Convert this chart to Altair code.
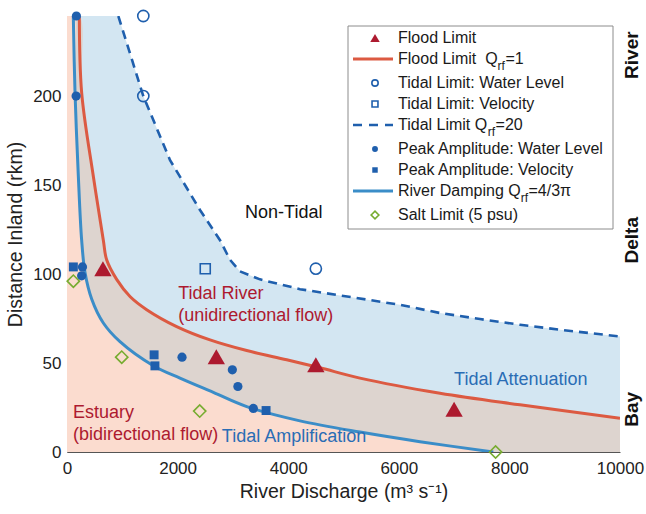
import altair as alt
import pandas as pd

FONT = "Liberation Sans"

# ---- axis extents ----
Q_MAX = 10000
KM_MAX = 245

# ---- boundary curves: river discharge (m3/s) vs distance inland (km) ----
flood_q = [223, 265, 476, 657, 717, 898, 1139, 1441, 1983, 2586, 3250, 3973, 4575, 5298, 6745, 8192, 10000]
flood_km = [245, 202, 155, 119, 108, 97, 87.4, 80, 70.5, 63, 57, 51.8, 47.3, 41.5, 33, 26.5, 19]

damp_q = [114, 145, 205, 265, 325, 446, 657, 958, 1561, 2043, 2646, 3250, 4213, 5298, 6383, 7709]
damp_km = [245, 202, 155, 119, 101, 86, 72.5, 62, 48.5, 41.5, 33.5, 25.5, 17.5, 11.2, 5.8, 0]

tlim_q = [928, 1380, 1863, 2405, 2767, 2948, 3128, 3490, 4213, 4937, 6022, 6745, 7468, 8192, 8915, 10000]
tlim_km = [245, 200, 164, 136, 119, 108, 101.5, 97, 91.5, 88, 82.7, 78.1, 74.7, 71.5, 68.7, 64.9]

# ---- observations ----
flood_obs_q = [650, 2700, 4500, 7000]
flood_obs_km = [103, 53.5, 49, 24]

tide_wl_q = [1380, 1380, 4500]
tide_wl_km = [245, 200, 103]

tide_vel_q = [2500]
tide_vel_km = [103]

peak_wl_q = [170, 165, 280, 265, 2080, 2990, 3090, 3370]
peak_wl_km = [245, 200, 104, 99, 53.3, 46.2, 36.8, 24.5]

peak_vel_q = [115, 1575, 1590, 3600]
peak_vel_km = [104, 54.6, 48.4, 23.3]

salt_q = [115, 990, 2400, 7750]
salt_km = [96, 53.3, 23, 0]

# reference distances separating river / delta / bay
zone_km = [50, 200]

# ---- colours ----
RED_LINE = "#dc5a42"
DARK_RED = "#ad1a2f"
BLUE_LINE = "#3b8dc8"
DARK_BLUE = "#1f5fad"
TEXT_BLUE = "#2a6db5"
GREEN = "#77ac30"
FILL_BLUE = "#d3e6f2"
FILL_MIX = "#ddd4cf"
FILL_SALMON = "#fbdccf"

W, H = 553, 436
LEFT, TOP = 67, 16

xs = alt.Scale(domain=[0, Q_MAX], nice=False, zero=False)
ys = alt.Scale(domain=[0, KM_MAX], nice=False, zero=False)
XQ = alt.X("q:Q", scale=xs)
YK = alt.Y("km:Q", scale=ys)


def frame(q, km):
    return pd.DataFrame({"q": q, "km": km})


def area(q, km, color, interp):
    # filled region between the axis and a boundary curve, flat along the top
    d = frame([0] + q, [KM_MAX] + km)
    return alt.Chart(d).mark_area(color=color, opacity=1, interpolate=interp, clip=True).encode(
        x=XQ, y=YK, y2=alt.datum(0)
    )


def curve(q, km, color, width, interp, dash=None):
    kw = dict(color=color, strokeWidth=width, interpolate=interp, clip=True)
    if dash:
        kw["strokeDash"] = dash
    return alt.Chart(frame(q, km)).mark_line(**kw).encode(x=XQ, y=YK)


def points(q, km, shape, size, color, filled, stroke_width=1.6):
    return alt.Chart(frame(q, km)).mark_point(
        shape=shape, size=size, color=color, filled=filled, opacity=1,
        strokeWidth=stroke_width, clip=False
    ).encode(x=XQ, y=YK)


def note(lines, q, km, color, size=18, align="left"):
    d = pd.DataFrame({"q": [q], "km": [km], "t": [lines]})
    return alt.Chart(d).mark_text(
        font=FONT, fontSize=size, color=color, align=align, baseline="middle", lineHeight=22
    ).encode(x=XQ, y=YK, text="t:N")


one = alt.Data(values=[{}])

# Helvetica/Arial advance widths (em) for legend text layout
ADV = {
    " ": .278, "\u00a0": .278, "F": .611, "l": .222, "o": .556, "d": .556, "L": .556,
    "i": .222, "m": .833, "t": .278, "Q": .778, "T": .611, "a": .556, "R": .722, "v": .5,
    "e": .556, "r": .333, "D": .722, "p": .556, "n": .556, "g": .556, "f": .278,
}


def text_width(s, size):
    return sum(ADV.get(c, .556) for c in s) * size


def px(x):
    return alt.value(x - LEFT)


def py(y):
    return alt.value(y - TOP)


LEG_FS = 16


def ltext(txt, x, y, size=LEG_FS, color="#1a1a1a"):
    return alt.Chart(one).mark_text(
        text=txt, font=FONT, fontSize=size, color=color, align="left", baseline="middle"
    ).encode(x=px(x), y=py(y))


def ltext_sub(head, sub, tail, x, y):
    # label of the form "<head>Q_rf<tail>" with a subscript
    x_sub = x + text_width(head, LEG_FS)
    x_tail = x_sub + text_width(sub, 12) + 0.5
    return [
        ltext(head, x, y),
        ltext(sub, x_sub, y + 7, size=12),
        ltext(tail, x_tail, y),
    ]


def lsym(x, y, shape, size, color, filled):
    return alt.Chart(one).mark_point(
        shape=shape, size=size, color=color, filled=filled, opacity=1, strokeWidth=1.6
    ).encode(x=px(x), y=py(y))


def lline(x1, x2, y, color, width, dash=None):
    kw = dict(color=color, strokeWidth=width)
    if dash:
        kw["strokeDash"] = dash
    return alt.Chart(one).mark_rule(**kw).encode(x=px(x1), x2=px(x2), y=py(y))


SMOOTH = "catmull-rom"

layers = [
    area(tlim_q, tlim_km, FILL_BLUE, "linear"),
    area(flood_q, flood_km, FILL_MIX, SMOOTH),
    area(damp_q, damp_km, FILL_SALMON, SMOOTH),
    alt.Chart(pd.DataFrame({"km": zone_km})).mark_rule(
        color="#555555", strokeWidth=1, strokeDash=[6, 4]
    ).encode(y=YK),
    curve(tlim_q, tlim_km, DARK_BLUE, 2.6, "linear", dash=[9, 6]),
    curve(flood_q, flood_km, RED_LINE, 3, SMOOTH),
    curve(damp_q, damp_km, BLUE_LINE, 3, SMOOTH),
    points(salt_q, salt_km, "diamond", 150, GREEN, False),
    points(tide_wl_q, tide_wl_km, "circle", 125, DARK_BLUE, False),
    points(tide_vel_q, tide_vel_km, "square", 100, DARK_BLUE, False),
    points(peak_wl_q, peak_wl_km, "circle", 85, DARK_BLUE, True),
    points(peak_vel_q, peak_vel_km, "square", 80, DARK_BLUE, True),
    points(flood_obs_q, flood_obs_km, "triangle-up", 300, DARK_RED, True),
    note("Non-Tidal", 3920, 134.5, "#111111", align="center"),
    note(["Tidal River", "(unidirectional flow)"], 2010, 89, DARK_RED),
    note(["Estuary", "(bidirectional flow)"], 110, 22, DARK_RED),
    note("Tidal Amplification", 2800, 8.4, TEXT_BLUE),
    note("Tidal Attenuation", 7000, 40.5, TEXT_BLUE),
]

# zone labels along the right edge
zones = pd.DataFrame({"t": ["River", "Delta", "Bay"], "km": [223, 119, 24]})
layers.append(
    alt.Chart(zones).mark_text(
        font=FONT, fontSize=19, fontWeight="bold", angle=270, color="#111111",
        align="center", baseline="middle"
    ).encode(x=alt.value(W + 12), y=YK, text="t:N")
)

# legend panel
layers.append(
    alt.Chart(one).mark_rect(fill="white", stroke="#8c8c8c", strokeWidth=1).encode(
        x=px(348), x2=px(613), y=py(26), y2=py(229)
    )
)
rows = [38, 59, 83, 104, 125, 149, 170, 191, 215]
SYM_X, LX1, LX2, TX = 375, 353, 393, 398
layers += [
    lsym(SYM_X, rows[0], "triangle-up", 90, DARK_RED, True),
    ltext("Flood Limit", TX, rows[0]),
    lline(LX1, LX2, rows[1], RED_LINE, 3),
    *ltext_sub("Flood Limit \u00a0Q", "rf", "=1", TX, rows[1]),
    lsym(SYM_X, rows[2], "circle", 40, DARK_BLUE, False),
    ltext("Tidal Limit: Water Level", TX, rows[2]),
    lsym(SYM_X, rows[3], "square", 35, DARK_BLUE, False),
    ltext("Tidal Limit: Velocity", TX, rows[3]),
    lline(LX1, LX2, rows[4], DARK_BLUE, 2.6, dash=[9, 7]),
    *ltext_sub("Tidal Limit Q", "rf", "=20", TX, rows[4]),
    lsym(SYM_X, rows[5], "circle", 35, DARK_BLUE, True),
    ltext("Peak Amplitude: Water Level", TX, rows[5]),
    lsym(SYM_X, rows[6], "square", 30, DARK_BLUE, True),
    ltext("Peak Amplitude: Velocity", TX, rows[6]),
    lline(LX1, LX2, rows[7], BLUE_LINE, 3),
    *ltext_sub("River Damping Q", "rf", "=4/3π", TX, rows[7]),
    lsym(SYM_X, rows[8], "diamond", 60, GREEN, False),
    ltext("Salt Limit (5 psu)", TX, rows[8]),
]

chart = alt.layer(*layers).encode(
    x=alt.X(
        "q:Q", scale=xs,
        axis=alt.Axis(
            values=[0, 2000, 4000, 6000, 8000, 10000], format="d",
            title="River Discharge (m³ s⁻¹)",
            labelFlush=False, labelPadding=8, titlePadding=6,
        ),
    ),
    y=alt.Y(
        "km:Q", scale=ys,
        axis=alt.Axis(
            values=[0, 50, 100, 150, 200], format="d", title="Distance Inland (rkm)",
            labelFlush=False, labelPadding=6, titlePadding=7,
        ),
    ),
).properties(
    width=W, height=H, autosize="none",
    padding={"left": LEFT, "top": TOP, "right": 646 - LEFT - W, "bottom": 514 - TOP - H},
).configure_view(stroke=None).configure_axis(
    grid=False, ticks=False, domainColor="#555555", domainWidth=1,
    labelFont=FONT, titleFont=FONT, labelFontSize=17, titleFontSize=19.5,
    titleFontWeight="normal", labelColor="#222222", titleColor="#222222",
)

chart.save("out.html", embed_options={"renderer": "svg", "actions": False})
